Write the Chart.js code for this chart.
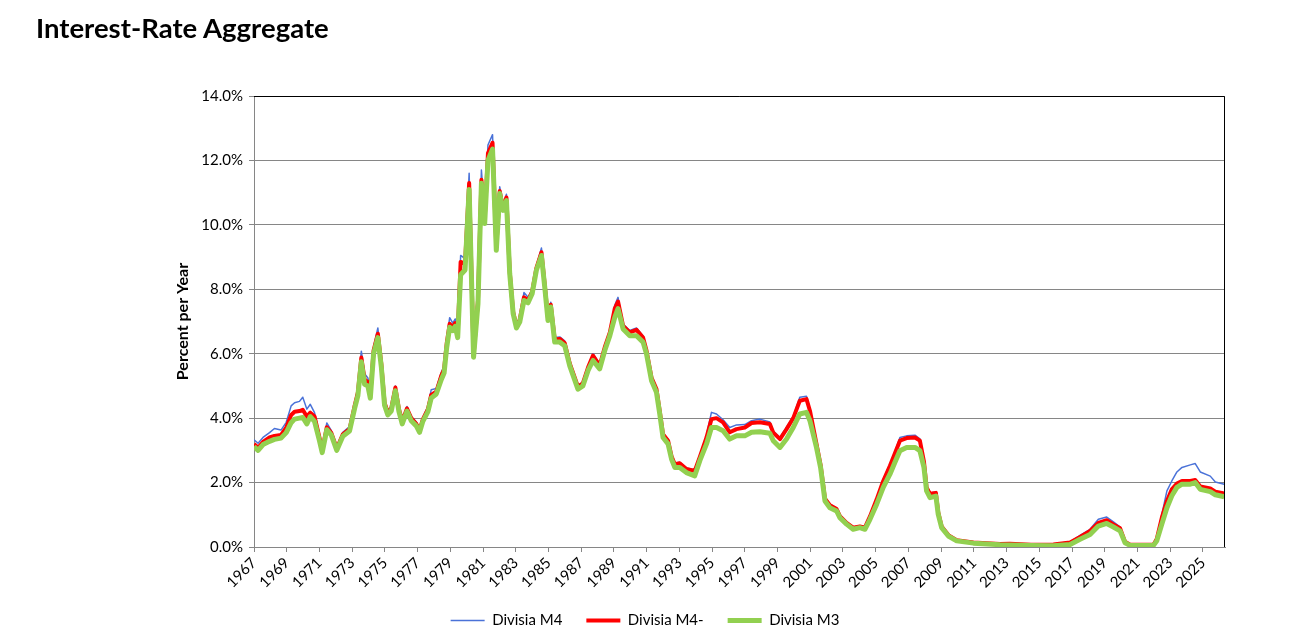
<!DOCTYPE html>
<html>
<head>
<meta charset="UTF-8">
<title>Interest-Rate Aggregate</title>
<style>
  body { margin: 0; background: #fff; }
  #wrap { position: relative; width: 1290px; height: 644px; }
  #chart { position: absolute; left: 0; top: 0; }
  #title { position: absolute; left: 36px; top: 11px; font: bold 27.5px Lato, sans-serif; color: #000; }
</style>
<script src="https://cdn.jsdelivr.net/npm/chart.js"></script>
</head>
<body>
<div id="wrap">
  <canvas id="chart" width="1290" height="644"></canvas>
  <div id="title">Interest-Rate Aggregate</div>
</div>
<script>
// decimal years of each reading
const years = [
  1967.00,1967.25,1967.55,1967.95,1968.25,1968.65,1968.97,1969.27,1969.48,1969.78,
  1969.98,1970.23,1970.44,1970.70,1971.00,1971.17,1971.45,1971.72,1972.06,1972.43,
  1972.84,1973.15,1973.35,1973.56,1973.76,1973.96,1974.11,1974.31,1974.57,1974.78,
  1974.98,1975.18,1975.39,1975.64,1975.86,1976.06,1976.35,1976.61,1976.92,1977.12,
  1977.32,1977.63,1977.83,1978.14,1978.45,1978.62,1978.78,1978.96,1979.15,1979.30,
  1979.45,1979.63,1979.90,1980.15,1980.42,1980.69,1980.90,1981.10,1981.30,1981.58,
  1981.81,1982.02,1982.22,1982.43,1982.63,1982.84,1983.04,1983.24,1983.50,1983.75,
  1984.00,1984.26,1984.57,1984.77,1984.97,1985.14,1985.38,1985.69,1985.99,1986.30,
  1986.80,1987.10,1987.42,1987.72,1988.13,1988.44,1988.75,1989.05,1989.25,1989.56,
  1989.97,1990.38,1990.78,1990.99,1991.30,1991.60,1991.80,1992.00,1992.31,1992.52,
  1992.72,1993.02,1993.43,1993.94,1994.25,1994.66,1994.96,1995.27,1995.67,1996.08,
  1996.49,1997.00,1997.41,1997.92,1998.53,1998.74,1999.15,1999.55,1999.96,2000.36,
  2000.77,2000.98,2001.38,2001.63,2001.90,2002.20,2002.61,2002.81,2003.22,2003.62,
  2004.03,2004.34,2004.65,2005.06,2005.46,2005.87,2006.17,2006.48,2006.89,2007.40,
  2007.70,2007.95,2008.11,2008.32,2008.68,2008.82,2009.03,2009.44,2009.95,2010.97,
  2012.60,2013.20,2014.50,2015.86,2016.88,2017.49,2018.10,2018.61,2019.12,2019.53,
  2019.94,2020.24,2020.55,2021.98,2022.18,2022.49,2022.80,2023.10,2023.41,2023.72,
  2024.23,2024.53,2024.84,2025.45,2025.76,2026.30
];

// Divisia M4 (percent per year)
const m4 = [
  3.33,3.22,3.40,3.55,3.68,3.63,3.87,4.38,4.48,4.52,
  4.65,4.28,4.43,4.17,3.50,3.07,3.85,3.62,3.12,3.56,
  3.74,4.46,4.92,6.08,5.38,5.25,4.82,6.20,6.80,5.80,
  4.55,4.24,4.36,5.00,4.33,3.95,4.36,4.05,3.88,3.68,
  4.02,4.36,4.88,4.92,5.42,5.62,6.45,7.12,6.95,7.08,
  6.70,9.05,8.95,11.60,6.00,7.75,11.70,10.30,12.48,12.80,
  9.40,11.18,10.60,10.95,8.60,7.35,6.92,7.10,7.90,7.75,
  7.98,8.72,9.28,8.20,7.15,7.60,6.50,6.52,6.40,5.75,
  5.02,5.12,5.62,6.00,5.68,6.25,6.72,7.50,7.75,6.92,
  6.72,6.80,6.55,6.15,5.30,4.95,4.26,3.54,3.34,2.86,
  2.60,2.63,2.45,2.40,2.84,3.48,4.18,4.13,3.95,3.71,
  3.79,3.80,3.92,3.97,3.88,3.60,3.40,3.72,4.05,4.65,
  4.68,4.28,3.25,2.60,1.53,1.33,1.21,0.98,0.77,0.62,
  0.66,0.62,0.98,1.52,2.10,2.57,2.95,3.40,3.45,3.47,
  3.36,2.70,1.88,1.68,1.71,1.10,0.66,0.38,0.22,0.15,
  0.10,0.11,0.08,0.09,0.16,0.36,0.55,0.86,0.93,0.78,
  0.62,0.18,0.08,0.08,0.30,1.01,1.74,2.05,2.33,2.47,
  2.55,2.59,2.33,2.20,2.02,1.95
];

// Divisia M4- (percent per year)
const m4Minus = [
  3.20,3.08,3.26,3.40,3.45,3.48,3.70,4.10,4.20,4.22,
  4.26,4.05,4.17,4.05,3.40,3.00,3.72,3.55,3.06,3.50,
  3.66,4.38,4.80,5.88,5.20,5.12,4.72,6.10,6.62,5.70,
  4.48,4.18,4.30,4.95,4.28,3.90,4.30,4.00,3.82,3.62,
  3.96,4.28,4.72,4.82,5.32,5.52,6.32,6.93,6.82,6.95,
  6.60,8.85,8.80,11.30,5.95,7.65,11.40,10.15,12.22,12.55,
  9.30,11.05,10.52,10.85,8.55,7.30,6.86,7.05,7.75,7.66,
  7.92,8.66,9.15,8.14,7.10,7.52,6.44,6.46,6.33,5.70,
  4.98,5.08,5.58,5.94,5.63,6.20,6.66,7.40,7.62,6.86,
  6.66,6.74,6.50,6.10,5.25,4.90,4.22,3.50,3.30,2.82,
  2.57,2.60,2.42,2.36,2.80,3.40,3.97,4.00,3.87,3.56,
  3.66,3.71,3.85,3.87,3.82,3.55,3.35,3.66,4.00,4.54,
  4.59,4.23,3.20,2.55,1.50,1.30,1.18,0.96,0.75,0.60,
  0.64,0.60,0.95,1.48,2.05,2.52,2.90,3.30,3.38,3.40,
  3.30,2.65,1.85,1.65,1.68,1.08,0.64,0.37,0.21,0.14,
  0.09,0.10,0.07,0.08,0.14,0.31,0.50,0.75,0.83,0.70,
  0.58,0.16,0.07,0.07,0.25,0.91,1.43,1.79,1.97,2.05,
  2.05,2.08,1.88,1.82,1.72,1.66
];

// Divisia M3 (percent per year)
const m3 = [
  3.12,3.00,3.18,3.28,3.34,3.38,3.55,3.86,3.97,4.00,
  4.02,3.82,4.05,3.90,3.30,2.93,3.64,3.48,3.00,3.44,
  3.60,4.30,4.70,5.75,5.05,5.00,4.62,6.00,6.50,5.60,
  4.40,4.10,4.22,4.85,4.20,3.82,4.22,3.92,3.76,3.56,
  3.90,4.20,4.62,4.75,5.20,5.40,6.20,6.82,6.72,6.85,
  6.50,8.45,8.60,11.10,5.89,7.55,11.29,10.04,12.00,12.35,
  9.21,10.97,10.45,10.75,8.49,7.24,6.80,6.98,7.65,7.58,
  7.86,8.59,9.05,8.07,7.03,7.45,6.36,6.36,6.25,5.62,
  4.90,5.00,5.48,5.79,5.53,6.10,6.56,7.13,7.40,6.77,
  6.56,6.56,6.36,6.00,5.16,4.80,4.13,3.40,3.20,2.73,
  2.47,2.47,2.31,2.21,2.68,3.20,3.71,3.71,3.61,3.35,
  3.45,3.45,3.56,3.58,3.53,3.30,3.09,3.35,3.71,4.13,
  4.18,3.92,3.09,2.47,1.43,1.22,1.12,0.91,0.71,0.55,
  0.60,0.55,0.86,1.33,1.85,2.26,2.62,2.99,3.09,3.09,
  2.99,2.47,1.74,1.53,1.58,1.02,0.60,0.34,0.19,0.12,
  0.07,0.06,0.05,0.04,0.08,0.24,0.39,0.65,0.73,0.62,
  0.50,0.13,0.05,0.05,0.19,0.71,1.22,1.59,1.85,1.95,
  1.95,2.00,1.79,1.72,1.62,1.56
];

const tickYears = [1967,1969,1971,1973,1975,1977,1979,1981,1983,1985,1987,1989,1991,1993,1995,
  1997,1999,2001,2003,2005,2007,2009,2011,2013,2015,2017,2019,2021,2023,2025];

const toPoints = vals => years.map((x, i) => ({ x, y: vals[i] }));

// black border on top and right of the plot area
const framePlugin = {
  id: 'frame',
  afterDraw(chart) {
    const { ctx, chartArea: a } = chart;
    ctx.save();
    ctx.strokeStyle = '#000';
    ctx.lineWidth = 1;
    ctx.beginPath();
    ctx.moveTo(a.left, a.top + 0.5);
    ctx.lineTo(a.right - 0.5, a.top + 0.5);
    ctx.lineTo(a.right - 0.5, a.bottom);
    ctx.stroke();
    ctx.restore();
  }
};

Chart.defaults.font.family = 'Lato, sans-serif';
Chart.defaults.color = '#000';

const gridGray = '#868686';

new Chart(document.getElementById('chart').getContext('2d'), {
  type: 'line',
  data: {
    datasets: [
      { label: 'Divisia M4', data: toPoints(m4), borderColor: '#4A72D8', backgroundColor: '#4A72D8', borderWidth: 1.5, order: 3 },
      { label: 'Divisia M4-', data: toPoints(m4Minus), borderColor: '#FF0000', backgroundColor: '#FF0000', borderWidth: 4, order: 2 },
      { label: 'Divisia M3', data: toPoints(m3), borderColor: '#92D050', backgroundColor: '#92D050', borderWidth: 5, order: 1 }
    ]
  },
  options: {
    responsive: false,
    animation: false,
    elements: {
      point: { radius: 0 },
      line: { tension: 0, fill: false, borderJoinStyle: 'round' }
    },
    layout: { padding: { left: 65, right: 65, top: 96, bottom: 6 } },
    scales: {
      x: {
        type: 'linear',
        min: 1967,
        max: 2026.35,
        afterBuildTicks: s => { s.ticks = tickYears.map(v => ({ value: v })); },
        afterFit: s => { s.height = 42; },
        grid: { drawOnChartArea: false, drawTicks: true, tickLength: 5, color: gridGray },
        border: { color: gridGray },
        ticks: {
          autoSkip: false, maxRotation: 45, minRotation: 45, padding: 2,
          font: { size: 15 }, color: '#000',
          callback: v => String(v)
        }
      },
      y: {
        min: 0,
        max: 14,
        afterFit: s => { s.width = 189; },
        grid: { color: gridGray, tickLength: 5 },
        border: { color: gridGray },
        ticks: {
          stepSize: 2, padding: 6, font: { size: 15 }, color: '#000',
          callback: v => v.toFixed(1) + '%'
        },
        title: {
          display: true, text: 'Percent per Year', color: '#000',
          font: { size: 16, weight: 'bold' },
          padding: { top: 108, bottom: 0 }
        }
      }
    },
    plugins: {
      title: { display: false },
      tooltip: { enabled: false },
      legend: {
        position: 'bottom',
        labels: {
          usePointStyle: true, pointStyle: 'line', pointStyleWidth: 34,
          padding: 24, font: { size: 15 }, color: '#000',
          sort: (a, b) => a.datasetIndex - b.datasetIndex
        }
      }
    }
  },
  plugins: [framePlugin]
});
</script>
</body>
</html>
